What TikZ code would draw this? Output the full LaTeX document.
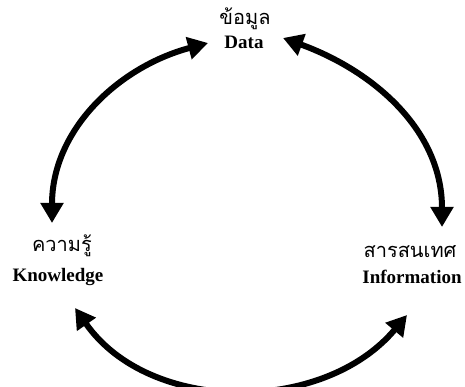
\documentclass[tikz,border=0pt]{standalone}
\usepackage{fontspec}
\setmainfont{Liberation Serif}
\newfontfamily\thaifont[Script=Thai]{Loma}
\usetikzlibrary{arrows.meta}
\tikzset{
  thailabel/.style={font=\thaifont\fontsize{20}{24}\selectfont, inner sep=0pt},
  englabel/.style={font=\bfseries\fontsize{19}{22}\selectfont, inner sep=0pt},
  cyclearrow/.style={line width=6pt, {Triangle[length=20pt,width=22pt]}-{Triangle[length=20pt,width=22pt]}}
}
\begin{document}
\begin{tikzpicture}[x=1pt,y=1pt]
\useasboundingbox (0,0) rectangle (465,387);

% concept labels
\node[thailabel] (dataTh) at (245,368) {ข้อมูล};
\node[englabel]  (dataEn) at (244,345) {Data};
\node[thailabel] (knowTh) at (62,141) {ความรู้};
\node[englabel]  (knowEn) at (58,110) {Knowledge};
\node[thailabel] (infoTh) at (410,135) {สารสนเทศ};
\node[englabel]  (infoEn) at (412,110) {Information};

% arrow ends beside the labels
\coordinate (dL) at (208,344);
\coordinate (dR) at (283,349);
\coordinate (kT) at (52,164);
\coordinate (kB) at (75,79);
\coordinate (iT) at (442,160);
\coordinate (iB) at (407,72);

% the three two-way arrows of the cycle
\draw[cyclearrow] (kT) to[out=90,in=195] (dL);
\draw[cyclearrow] (dR) to[out=-20,in=90] (iT);
\draw[cyclearrow] (kB) to[out=-55,in=230] (iB);
\end{tikzpicture}
\end{document}
